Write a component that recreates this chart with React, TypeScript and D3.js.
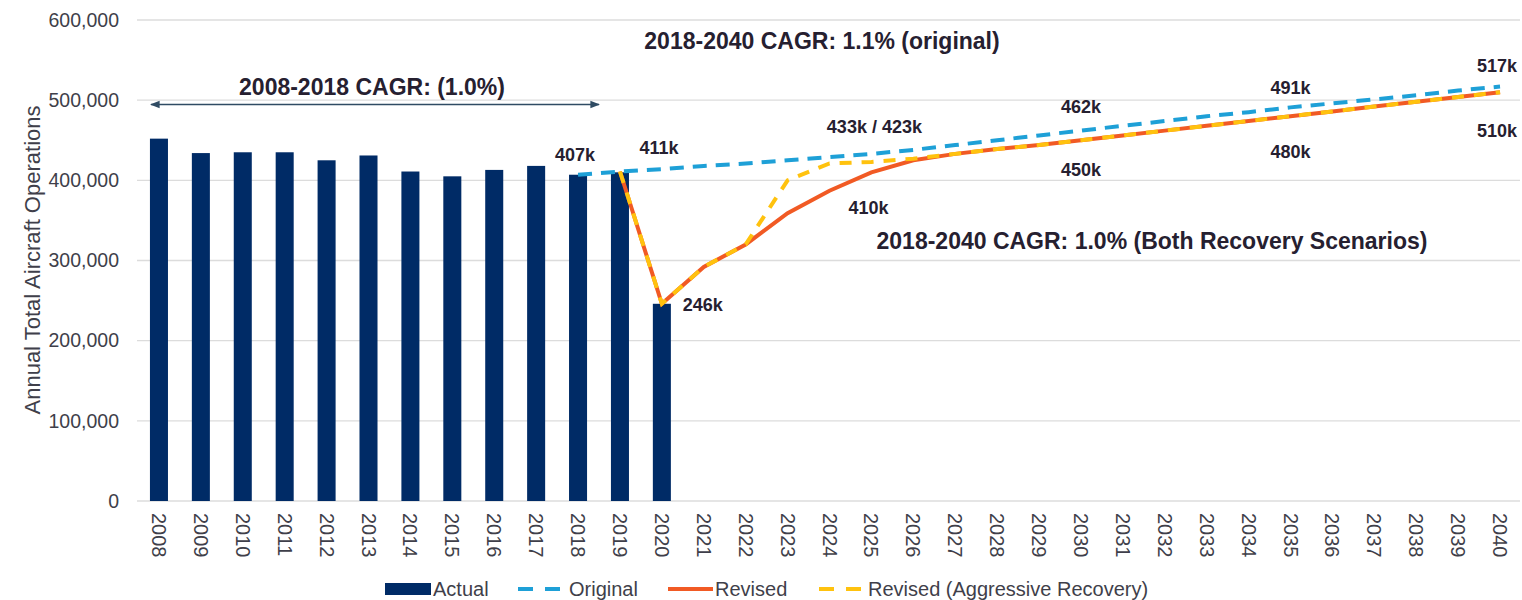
import React from 'react'
import * as d3 from 'd3'

// annual operations, actual years (bars)
const actualYears = ['2008','2009','2010','2011','2012','2013','2014','2015','2016','2017','2018','2019','2020']
const actualOps = [452000, 434000, 435000, 435000, 425000, 431000, 411000, 405000, 413000, 418000, 407000, 410000, 246000]

const years = d3.range(2008, 2041).map(String)

const originalYears = d3.range(2018, 2041).map(String)
const originalOps = [407000, 411000, 414000, 418000, 421000, 425000, 429000, 433000, 438000, 444000, 450000, 456000, 462000, 468000, 474000, 480000, 485000, 491000, 496000, 501000, 506000, 512000, 517000]

const revisedYears = d3.range(2019, 2041).map(String)
const revisedOps = [411000, 246000, 292000, 320000, 359000, 387000, 410000, 425000, 433000, 439000, 444000, 450000, 456000, 462000, 468000, 474000, 480000, 486000, 492000, 498000, 504000, 510000]
const aggressiveOps = [411000, 246000, 292000, 320000, 400000, 421000, 423000, 427000, 433000, 439000, 444000, 450000, 456000, 462000, 468000, 474000, 480000, 486000, 492000, 498000, 504000, 510000]

const yTicks = [0, 100000, 200000, 300000, 400000, 500000, 600000]

// value labels: year, value, text, dx, dy
const valueLabels: [string, number, string, number, number][] = [
  ['2018', 407000, '407k', -3, -20],
  ['2019', 411000, '411k', 39, -24],
  ['2020', 246000, '246k', 41, 1],
  ['2025', 433000, '433k / 423k', 3, -27],
  ['2030', 462000, '462k', 0, -24],
  ['2035', 491000, '491k', 0, -20],
  ['2040', 517000, '517k', -3, -21],
  ['2025', 410000, '410k', -3, 35],
  ['2030', 450000, '450k', 0, 29],
  ['2035', 480000, '480k', 0, 35],
  ['2040', 510000, '510k', -3, 39],
]

const C = {
  bar: '#002b66',
  orig: '#1ea0d7',
  rev: '#f15a24',
  agg: '#ffc20e',
  grid: '#dcdcdc',
  text: '#3f3f4a',
  dark: '#262030',
  arrow: '#2f4b63',
}

const legendItems = [
  { key: 'Actual', kind: 'bar', color: C.bar, x: 385, tx: 433 },
  { key: 'Original', kind: 'dash', color: C.orig, x: 518, tx: 569 },
  { key: 'Revised', kind: 'line', color: C.rev, x: 668, tx: 715 },
  { key: 'Revised (Aggressive Recovery)', kind: 'dash', color: C.agg, x: 819, tx: 868 },
]

export default function App() {
  const W = 1522, H = 600
  const font = '"Liberation Sans", Arial, sans-serif'

  const x = d3.scaleBand<string>().domain(years).range([138, 1521]).paddingInner(0.57).paddingOuter(0.285)
  const cx = (yr: string) => (x(yr) as number) + x.bandwidth() / 2
  const y = d3.scaleLinear().domain([0, 600000]).range([501, 20])

  const line = d3.line<[string, number]>().x(d => cx(d[0])).y(d => y(d[1]))
  const fmt = d3.format(',')

  const origPts = originalYears.map((yr, i) => [yr, originalOps[i]] as [string, number])
  const revPts = revisedYears.map((yr, i) => [yr, revisedOps[i]] as [string, number])
  const aggPts = revisedYears.map((yr, i) => [yr, aggressiveOps[i]] as [string, number])

  return (
    <svg width={W} height={H} style={{ position: 'absolute', left: 0, top: 0, background: '#fff' }} fontFamily={font}>
      <defs>
        <marker id="ah" viewBox="0 0 10 10" refX="9" refY="5" markerWidth="6" markerHeight="6" orient="auto-start-reverse">
          <path d="M0,1 L10,5 L0,9 z" fill={C.arrow} />
        </marker>
      </defs>

      {/* grid */}
      {yTicks.map(t => (
        <g key={t}>
          <line x1={137} x2={1520} y1={y(t)} y2={y(t)} stroke={C.grid} strokeWidth={1.3} />
          <text x={119} y={y(t)} dy="0.35em" textAnchor="end" fontSize={19.5} fill={C.text}>{fmt(t)}</text>
        </g>
      ))}

      <text transform={`translate(40,260) rotate(-90)`} textAnchor="middle" fontSize={22} fill={C.text}>
        Annual Total Aircraft Operations
      </text>

      {/* bars */}
      {actualYears.map((yr, i) => (
        <rect key={yr} x={x(yr)} y={y(actualOps[i])} width={x.bandwidth()} height={y(0) - y(actualOps[i])} fill={C.bar} />
      ))}

      {/* x labels */}
      {years.map(yr => (
        <text key={yr} transform={`translate(${cx(yr) - 7},513) rotate(90)`} fontSize={20} fill={C.text}>{yr}</text>
      ))}

      {/* lines */}
      <path d={line(origPts) as string} fill="none" stroke={C.orig} strokeWidth={4} strokeDasharray="14 9" />
      <path d={line(revPts) as string} fill="none" stroke={C.rev} strokeWidth={4} />
      <path d={line(aggPts) as string} fill="none" stroke={C.agg} strokeWidth={4} strokeDasharray="12 10" />

      {/* arrow */}
      <line x1={151} x2={599} y1={104.5} y2={104.5} stroke={C.arrow} strokeWidth={1.6} markerStart="url(#ah)" markerEnd="url(#ah)" />

      {/* annotations */}
      <text x={372} y={95} textAnchor="middle" fontSize={23} fontWeight="bold" fill={C.dark}>2008-2018 CAGR: (1.0%)</text>
      <text x={822} y={49} textAnchor="middle" fontSize={23} fontWeight="bold" fill={C.dark}>2018-2040 CAGR: 1.1% (original)</text>
      <text x={1152} y={249} textAnchor="middle" fontSize={23} fontWeight="bold" fill={C.dark}>2018-2040 CAGR: 1.0% (Both Recovery Scenarios)</text>

      {valueLabels.map(([yr, v, t, dx, dy], i) => (
        <text key={i} x={cx(yr) + dx} y={y(v) + dy} textAnchor="middle"
          fontSize={18} fontWeight="bold" fill={C.dark} dy="0.35em">{t}</text>
      ))}

      {/* legend */}
      {legendItems.map(it => (
        <g key={it.key} transform="translate(0,589)">
          {it.kind === 'bar' && <rect x={it.x} y={-6} width={46} height={12} fill={it.color} />}
          {it.kind === 'line' && <line x1={it.x} x2={it.x + 45} y1={0} y2={0} stroke={it.color} strokeWidth={4} />}
          {it.kind === 'dash' && <line x1={it.x} x2={it.x + 42} y1={0} y2={0} stroke={it.color} strokeWidth={4} strokeDasharray="15 12" />}
          <text x={it.tx} y={0} dy="0.35em" fontSize={20} fill={C.text}>{it.key}</text>
        </g>
      ))}
    </svg>
  )
}
